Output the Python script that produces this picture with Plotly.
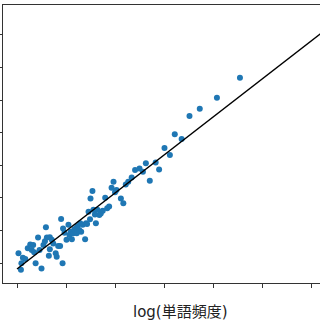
import plotly.graph_objects as go

# log word frequency (x) vs. target quantity (y)
log_freq = [0.03, 0.08, 0.12, 0.17, 0.22, 0.27, 0.30, 0.33, 0.35, 0.38,
            0.43, 0.46, 0.50, 0.54, 0.57, 0.59, 0.61, 0.65, 0.67, 0.71,
            0.74, 0.79, 0.81, 0.84, 0.88, 0.90, 0.93, 0.94, 0.97, 1.01,
            1.05, 1.07, 1.10, 1.12, 1.15, 1.17, 1.20, 1.22, 1.23, 1.27,
            1.29, 1.31, 1.34, 1.39, 1.41, 1.43, 1.46, 1.49, 1.50, 1.54,
            1.56, 1.59, 1.61, 1.64, 1.68, 1.71, 1.75, 1.80, 1.84, 1.88,
            1.93, 1.97, 2.00, 2.03, 2.12, 2.17, 2.22, 2.27, 2.34, 2.41,
            2.50, 2.63, 2.71, 2.83, 0.09, 0.67, 2.90, 2.57, 3.01, 3.12,
            3.22, 3.36, 3.52, 3.73, 4.08, 4.55]
values = [0.30, -0.21, 0.16, 0.12, 0.45, 0.57, 0.40, 0.55, 0.33, -0.01,
          0.78, 0.40, -0.17, 0.55, 0.67, 1.10, 0.78, 0.22, 0.79, 0.71,
          0.60, 0.30, 0.19, 0.52, 0.52, 1.35, -0.01, 1.06, 0.93, 0.71,
          1.17, 0.86, 0.96, 0.73, 0.91, 1.03, 1.06, 0.91, 1.13, 1.01,
          1.22, 0.96, 1.17, 0.73, 1.22, 1.20, 1.57, 1.34, 1.98, 2.21,
          1.63, 1.49, 1.22, 1.63, 1.47, 1.52, 1.60, 2.00, 1.68, 1.73,
          2.31, 2.49, 2.17, 2.24, 1.98, 1.83, 2.41, 2.49, 2.62, 2.85,
          2.90, 3.06, 2.52, 3.08, -0.01, 0.42, 2.87, 2.80, 3.53, 3.31,
          3.95, 3.80, 4.51, 4.73, 5.07, 5.68]

# fitted regression line
fit_intercept = -0.184
fit_slope = 1.165
fit_x = [0.0, 6.5]
fit_y = [fit_intercept + fit_slope * v for v in fit_x]

x_ticks = [0, 1, 2, 3, 4, 5, 6]
y_ticks = [0, 1, 2, 3, 4, 5, 6, 7]
x_label = "log(単語頻度)"

fig = go.Figure()
fig.add_trace(go.Scatter(
    x=log_freq, y=values, mode="markers",
    marker=dict(color="#1f77b4", size=6, line=dict(width=0)),
    showlegend=False, hoverinfo="skip"))
fig.add_trace(go.Scatter(
    x=fit_x, y=fit_y, mode="lines",
    line=dict(color="black", width=1.5),
    showlegend=False, hoverinfo="skip"))

axis_common = dict(showgrid=False, zeroline=False, showline=True,
                   linecolor="#333", linewidth=1, ticks="outside",
                   ticklen=4, tickwidth=1, tickcolor="#333",
                   showticklabels=False)
fig.update_xaxes(range=[-0.2857, 6.1837], tickvals=x_ticks, mirror=True,
                 **axis_common)
fig.update_yaxes(range=[-0.6135, 7.914], tickvals=y_ticks, mirror=False,
                 **axis_common)

fig.add_annotation(text=x_label, xref="paper", yref="paper",
                   x=0.5615, y=-0.103, xanchor="center", yanchor="middle",
                   showarrow=False,
                   font=dict(family="DejaVu Sans, Noto Sans CJK JP",
                             size=15, color="#222"))

fig.update_layout(width=320, height=320,
                  margin=dict(l=3, r=0, t=5, b=37),
                  paper_bgcolor="white", plot_bgcolor="white")

fig.write_html("out.html")
